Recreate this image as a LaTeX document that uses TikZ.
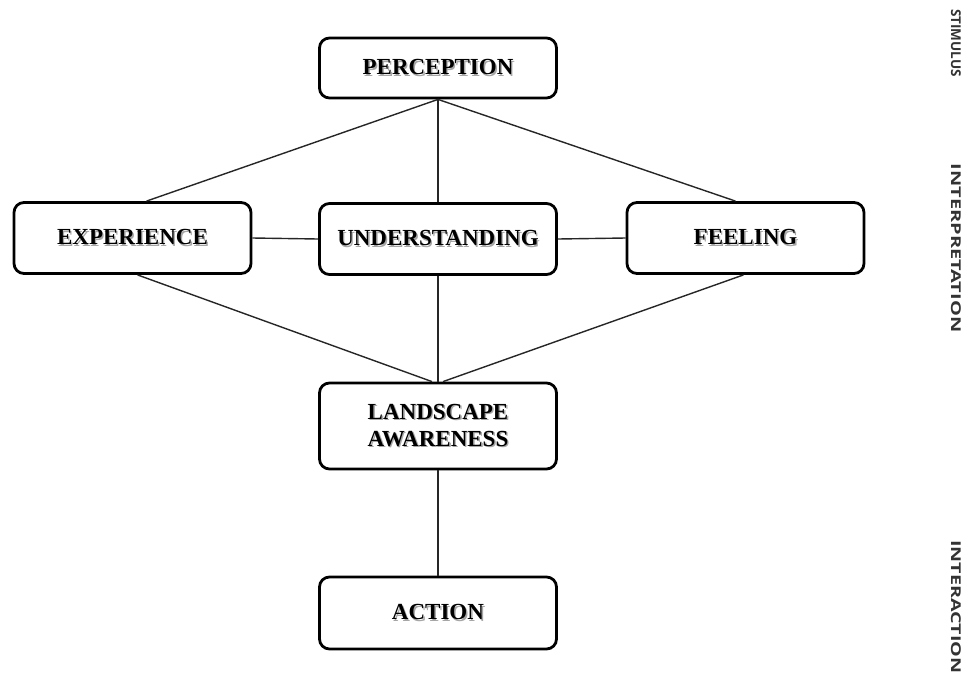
\documentclass[tikz,border=0pt]{standalone}
\usepackage{fontspec}
\setmainfont{Liberation Serif}
\newfontfamily\sidefont{Open Sans}
\newcommand\shtxt[1]{\leavevmode\rlap{\hspace{1.4pt}\raisebox{-1.4pt}{\textcolor{black!35}{#1}}}#1}
\begin{document}
\begin{tikzpicture}[x=1pt,y=-1pt,
  box/.style={draw=black, line width=2.8pt, rounded corners=10pt, fill=white,
    minimum width=237pt, font=\fontsize{23}{27}\selectfont\bfseries, align=center, inner sep=0pt},
  link/.style={draw=black!85, line width=1.4pt},
  side/.style={rotate=-90, font=\sidefont\bfseries\fontsize{13.5}{16}\selectfont, text=black!80, inner sep=0pt}]
\useasboundingbox (0,0) rectangle (969,675);
\node[box, minimum height=60pt] (perc) at (438,68) {\shtxt{PERCEPTION}};
\node[box, minimum height=71pt] (exp) at (132.5,238) {\shtxt{EXPERIENCE}};
\node[box, minimum height=71pt] (und) at (438,239) {\shtxt{UNDERSTANDING}};
\node[box, minimum height=71pt] (feel) at (745.5,238) {\shtxt{FEELING}};
\node[box, minimum height=86pt] (land) at (438,426) {\shtxt{LANDSCAPE}\\\shtxt{AWARENESS}};
\node[box, minimum height=72pt] (act) at (438,613) {\shtxt{ACTION}};
\node[side] (stim) at (956,43) {STIMULUS};
\node[side] (interp) at (956,248) {\scalebox{1.48}[1]{INTERPRETATION}};
\node[side, anchor=west] (inter) at (956,540) {\scalebox{1.46}[1]{INTERACTION}};
\draw[link] (perc.south) -- ([xshift=14pt]exp.north);
\draw[link] (perc.south) -- ([xshift=-10pt]feel.north);
\draw[link] (perc.south) -- (und.north);
\draw[link] (exp.east) -- (und.west);
\draw[link] (und.east) -- (feel.west);
\draw[link] ([xshift=5pt]exp.south) -- ([xshift=-6pt]land.north);
\draw[link] (und.south) -- (land.north);
\draw[link] ([xshift=-2pt]feel.south) -- ([xshift=5pt]land.north);
\draw[link] (land.south) -- (act.north);
\end{tikzpicture}
\end{document}
